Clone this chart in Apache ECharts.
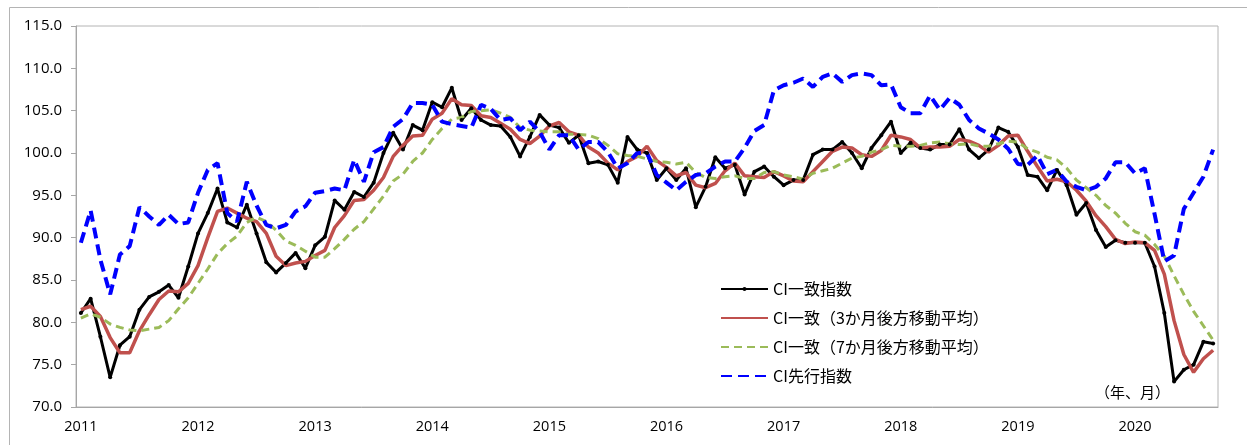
<!DOCTYPE html>
<html>
<head>
<meta charset="utf-8">
<script src="https://cdn.jsdelivr.net/npm/echarts@6/dist/echarts.min.js"></script>
<style>
  html, body { margin: 0; padding: 0; background: #fff; }
  #chart { width: 1247px; height: 445px; }
</style>
</head>
<body>
<div id="chart"></div>
<script>
// 年（x軸ラベル）と最終月
const years = [2011, 2012, 2013, 2014, 2015, 2016, 2017, 2018, 2019, 2020];
const lastMonth = 9; // 2020年9月まで

// CI一致指数
const ciCoincident = [
  81.1, 82.8, 78.3, 73.5, 77.3, 78.3, 81.5, 83.0, 83.6, 84.4, 82.9, 86.6,
  90.5, 92.9, 95.8, 91.8, 91.2, 93.9, 90.5, 87.1, 85.9, 87.0, 88.2, 86.4,
  89.1, 90.1, 94.4, 93.3, 95.4, 94.8, 96.5, 100.0, 102.4, 100.4, 103.3, 102.7,
  106.0, 105.4, 107.7, 103.9, 105.3, 103.9, 103.3, 103.2, 101.9, 99.6, 101.9, 104.5,
  103.3, 103.0, 101.2, 102.1, 98.8, 99.0, 98.6, 96.5, 101.9, 100.4, 100.0, 96.8,
  98.2, 96.8, 98.2, 93.6, 96.0, 99.5, 98.2, 98.6, 95.1, 97.8, 98.4, 97.2,
  96.2, 96.8, 96.8, 99.8, 100.4, 100.4, 101.3, 100.0, 98.2, 100.6, 102.1, 103.7,
  100.0, 101.2, 100.6, 100.4, 101.0, 101.0, 102.8, 100.4, 99.4, 100.4, 103.0, 102.5,
  100.7, 97.4, 97.2, 95.6, 98.0, 96.2, 92.7, 94.1, 90.9, 88.9, 89.7, 89.4,
  89.4, 89.4, 86.6, 81.1, 73.0, 74.4, 75.0, 77.7, 77.5
];

// CI一致（3か月後方移動平均）
const ciMa3 = [
  81.5, 81.9, 80.7, 78.2, 76.4, 76.4, 79.0, 80.9, 82.7, 83.7, 83.6, 84.6,
  86.7, 90.0, 93.1, 93.5, 92.9, 92.3, 91.9, 90.5, 87.8, 86.7, 87.0, 87.2,
  87.9, 88.5, 91.2, 92.6, 94.4, 94.5, 95.6, 97.1, 99.6, 100.9, 102.0, 102.1,
  104.0, 104.7, 106.4, 105.7, 105.6, 104.4, 104.2, 103.5, 102.8, 101.6, 101.1, 102.0,
  103.2, 103.6, 102.5, 102.1, 100.7, 100.0, 98.8, 98.0, 99.0, 99.6, 100.8, 99.1,
  98.3, 97.3, 97.7, 96.2, 95.9, 96.4, 97.9, 98.8, 97.3, 97.2, 97.1, 97.8,
  97.3, 96.7, 96.6, 97.8, 99.0, 100.2, 100.7, 100.6, 99.8, 99.6, 100.3, 102.1,
  101.9, 101.6, 100.6, 100.7, 100.7, 100.8, 101.6, 101.4, 100.9, 100.1, 100.9, 102.0,
  102.1, 100.2, 98.4, 96.7, 96.9, 96.6, 95.6, 94.3, 92.6, 91.3, 89.8, 89.3,
  89.5, 89.4, 88.5, 85.7, 80.2, 76.2, 74.1, 75.7, 76.7
];

// CI一致（7か月後方移動平均）
const ciMa7 = [
  80.5, 81.0, 80.6, 79.8, 79.4, 79.1, 79.0, 79.2, 79.4, 80.2, 81.6, 82.9,
  84.6, 86.3, 88.1, 89.3, 90.2, 91.8, 92.4, 91.9, 90.9, 89.6, 89.1, 88.4,
  87.7, 87.7, 88.7, 89.8, 91.0, 91.9, 93.4, 94.9, 96.7, 97.5, 99.0, 100.0,
  101.6, 102.9, 104.0, 104.2, 104.9, 105.0, 105.1, 104.7, 104.2, 103.0, 102.7, 102.6,
  102.5, 102.5, 102.2, 102.2, 102.1, 101.7, 100.9, 99.9, 99.7, 99.6, 99.3, 99.0,
  98.9, 98.7, 98.9, 97.7, 97.1, 97.0, 97.2, 97.3, 97.0, 97.0, 97.7, 97.8,
  97.4, 97.2, 96.9, 97.6, 97.9, 98.2, 98.8, 99.4, 99.6, 100.1, 100.4, 100.9,
  100.8, 100.8, 100.9, 101.2, 101.3, 101.1, 101.0, 101.1, 100.8, 100.8, 101.1, 101.4,
  101.3, 100.5, 100.1, 99.5, 99.2, 98.2, 96.8, 95.9, 95.0, 93.8, 92.9, 91.7,
  90.7, 90.3, 89.2, 87.8, 85.5, 83.3, 81.3, 79.6, 77.9
];

// CI先行指数
const ciLeading = [
  89.4, 93.2, 87.4, 83.3, 88.0, 89.0, 93.6, 92.5, 91.5, 92.7, 91.6, 91.8,
  95.3, 98.0, 98.8, 92.9, 91.9, 96.6, 93.8, 91.5, 91.1, 91.5, 93.1, 93.7,
  95.3, 95.5, 95.8, 95.6, 99.2, 96.6, 100.1, 100.7, 103.1, 104.0, 105.9, 105.9,
  105.7, 103.7, 103.4, 103.2, 103.0, 105.7, 105.2, 103.9, 104.1, 102.7, 103.7, 102.5,
  100.4, 102.1, 102.1, 100.4, 101.3, 101.3, 100.1, 98.2, 98.8, 100.0, 100.0, 97.4,
  96.5, 95.6, 96.6, 97.4, 97.6, 98.4, 99.0, 99.0, 100.6, 102.6, 103.3, 107.4,
  108.0, 108.3, 108.8, 107.8, 109.0, 109.4, 108.4, 109.2, 109.4, 109.2, 108.0, 108.1,
  105.4, 104.7, 104.7, 106.8, 105.1, 106.5, 105.7, 103.9, 102.9, 102.3, 101.6, 100.5,
  98.7, 98.6, 99.7, 97.5, 98.0, 96.6, 96.0, 95.6, 96.0, 97.0, 98.9, 98.9,
  97.6, 98.2, 92.8, 87.2, 87.9, 93.4, 95.3, 97.2, 100.4
];

const seriesNames = [
  "CI一致指数",
  "CI一致（3か月後方移動平均）",
  "CI一致（7か月後方移動平均）",
  "CI先行指数"
];

// 月次カテゴリ
const months = [];
years.forEach(y => {
  const n = y === years[years.length - 1] ? lastMonth : 12;
  for (let m = 1; m <= n; m++) months.push(y + "年" + m + "月");
});

const FONT = "'Open Sans', 'Noto Sans CJK JP', sans-serif";
const JFONT = "'Noto Sans CJK JP', sans-serif";

let chart = echarts.init(document.getElementById("chart"));
let options = {
  animation: false,
  backgroundColor: "#fff",
  grid: {
    left: 76,
    right: 29,
    top: 26,
    bottom: 38,
    show: true,
    borderColor: "#b4b4b4",
    borderWidth: 1
  },
  legend: {
    orient: "vertical",
    left: 715,
    top: 276,
    itemWidth: 47,
    itemHeight: 5,
    itemGap: 13,
    itemStyle: { opacity: 0 },
    textStyle: {
      fontFamily: JFONT,
      fontSize: 16,
      color: "#000"
    },
    data: [
      { name: seriesNames[0], itemStyle: { opacity: 1, color: "#000" } },
      { name: seriesNames[1] },
      { name: seriesNames[2] },
      { name: seriesNames[3] }
    ]
  },
  xAxis: {
    type: "category",
    data: months,
    boundaryGap: true,
    axisLine: { lineStyle: { color: "#a6a6a6", width: 1 } },
    axisTick: {
      interval: 0,
      length: 5,
      lineStyle: { color: "#a6a6a6" }
    },
    axisLabel: {
      interval: (idx) => idx % 12 === 0,
      formatter: (val) => val.slice(0, 4),
      margin: 13,
      fontFamily: FONT,
      fontSize: 14.5,
      color: "#000"
    },
    splitLine: { show: false }
  },
  yAxis: {
    type: "value",
    min: 70,
    max: 115,
    interval: 5,
    axisLine: { show: true, lineStyle: { color: "#a6a6a6" } },
    axisTick: { show: true, length: 5, lineStyle: { color: "#a6a6a6" } },
    axisLabel: {
      formatter: (v) => v.toFixed(1),
      margin: 14,
      fontFamily: FONT,
      fontSize: 15,
      color: "#000"
    },
    splitLine: { show: false }
  },
  graphic: [
    {
      type: "rect",
      shape: { x: 9.5, y: 7.5, width: 1300, height: 500 },
      style: { fill: "none", stroke: "#b4b4b4", lineWidth: 1 },
      silent: true
    },
    {
      type: "text",
      left: 1095,
      top: 385,
      style: {
        text: "（年、月）",
        font: "15px 'Noto Sans CJK JP', sans-serif",
        fill: "#000"
      }
    }
  ],
  series: [
    {
      name: seriesNames[0],
      type: "line",
      data: ciCoincident,
      symbol: "circle",
      symbolSize: 4,
      itemStyle: { color: "#000" },
      lineStyle: { color: "#000", width: 3 }
    },
    {
      name: seriesNames[1],
      type: "line",
      data: ciMa3,
      symbol: "none",
      itemStyle: { color: "#c0504d" },
      lineStyle: { color: "#c0504d", width: 3.5 }
    },
    {
      name: seriesNames[2],
      type: "line",
      data: ciMa7,
      symbol: "none",
      itemStyle: { color: "#9bbb59" },
      lineStyle: { color: "#9bbb59", width: 3, type: [8, 5] }
    },
    {
      name: seriesNames[3],
      type: "line",
      data: ciLeading,
      symbol: "none",
      itemStyle: { color: "#0000ff" },
      lineStyle: { color: "#0000ff", width: 4, type: [11, 6] }
    }
  ]
};

chart.setOption(options);
window.addEventListener("resize", function() {
  chart.resize();
});
</script>
</body>
</html>
